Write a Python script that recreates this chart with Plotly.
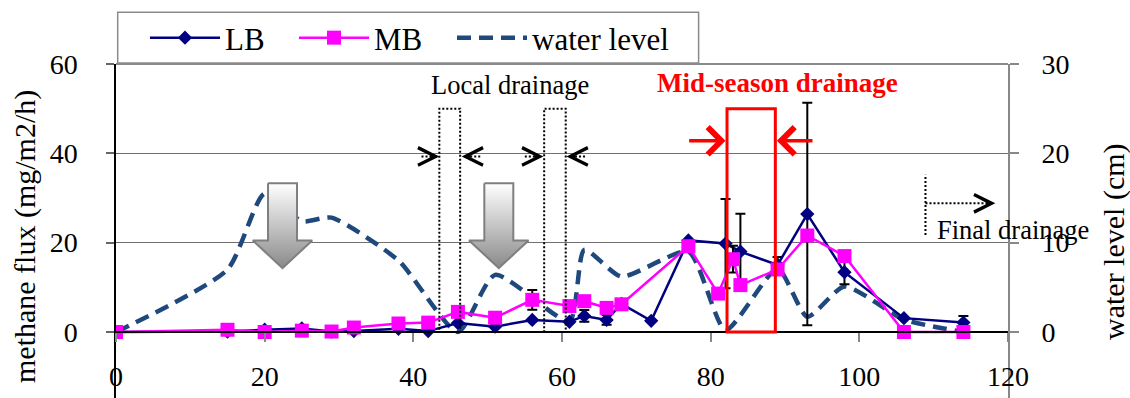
import plotly.graph_objects as go

# ---------------- data ----------------
days_LB = [0, 15, 20, 25, 29, 32, 38, 42, 46, 51, 56, 61, 63, 66, 68, 72, 77, 82, 84, 89, 93, 98, 106, 114]
LB_flux = [0, 0.1, 0.5, 0.8, 0.1, 0.2, 0.7, 0.2, 2.0, 1.2, 2.7, 2.3, 3.6, 2.7, 6.3, 2.5, 20.5, 19.8, 18.0, 15.0, 26.4, 13.4, 3.1, 2.1]
LB_err = [0, 0, 0, 0, 0, 0, 0, 0, 0, 0, 0, 0, 1.3, 1.1, 0, 0, 0, 10.0, 8.5, 1.8, 24.9, 2.7, 0, 1.5]

days_MB = [0, 15, 20, 25, 29, 32, 38, 42, 46, 51, 56, 61, 63, 66, 68, 77, 81, 83, 84, 89, 93, 98, 106, 114]
MB_flux = [0, 0.5, 0.0, 0.3, 0.1, 1.0, 1.9, 2.1, 4.5, 3.2, 7.2, 5.8, 6.9, 5.4, 6.2, 19.2, 8.6, 16.3, 10.5, 14.0, 21.6, 17.0, 0.0, 0.0]
MB_err = [0, 0, 0, 0, 0, 0, 0, 0, 0, 0, 2.2, 0, 0, 0, 0, 0, 0, 3.0, 0, 0, 0, 0, 0, 0]

days_water = [0, 15, 20, 25, 29, 38, 46, 51, 61, 63, 68, 77, 82, 89, 93, 98, 106, 114]
water_level = [0, 7.0, 15.5, 12.4, 12.8, 8.0, 0.0, 6.4, 1.2, 9.2, 6.2, 9.0, 0.2, 7.1, 1.7, 5.1, 1.4, 0.0]

x_ticks = [0, 20, 40, 60, 80, 100, 120]
flux_ticks = [0, 20, 40, 60]
water_ticks = [0, 10, 20, 30]

X_RANGE = [0, 120]
FLUX_RANGE = [-14.776, 60]
WATER_RANGE = [-7.388, 30]

FONT = "Liberation Serif"
NAVY = "#000080"
MAGENTA = "#FF00FF"
WATER_C = "#1F497D"

PLOT_L, PLOT_R, PLOT_T, PLOT_B = 116, 1008, 64, 398


def px_x(px):
    return (px - PLOT_L) / (PLOT_R - PLOT_L)


def px_y(py):
    return (PLOT_B - py) / (PLOT_B - PLOT_T)


fig = go.Figure()

# water level (right axis) - drawn first so it sits beneath
fig.add_trace(go.Scatter(
    x=days_water, y=water_level, name="water level", yaxis="y", legend="legend3",
    mode="lines",
    line=dict(color=WATER_C, width=4.5, dash="14px,8px", shape="spline", smoothing=0.6),
    hoverinfo="skip"))

# gray block arrows (decorations)
def block_arrow(cx, top=33.3, base=20.5, tip=14.3, hs=1.95, hh=4.0):
    xs = [cx - hs, cx + hs, cx + hs, cx + hh, cx, cx - hh, cx - hs, cx - hs]
    ys = [top, top, base, base, tip, base, base, top]
    return xs, ys

for cx in [22.4, 51.5]:
    ax_, ay_ = block_arrow(cx)
    fig.add_trace(go.Scatter(
        x=ax_, y=ay_, yaxis="y2", mode="lines", fill="toself",
        fillgradient=dict(type="vertical", colorscale=[[0, "#8a8a8a"], [1, "#ffffff"]],
                          start=14.3, stop=33.3),
        line=dict(color="#7f7f7f", width=2), showlegend=False, hoverinfo="skip"))

fig.add_trace(go.Scatter(
    x=days_LB, y=LB_flux, name="LB", yaxis="y2", legend="legend", mode="lines+markers",
    line=dict(color=NAVY, width=2.5),
    marker=dict(symbol="diamond", size=11, color=NAVY),
    error_y=dict(type="data", array=LB_err, visible=True, color="black", thickness=2, width=5),
    hoverinfo="skip"))

fig.add_trace(go.Scatter(
    x=days_MB, y=MB_flux, name="MB", yaxis="y2", legend="legend2", mode="lines+markers",
    line=dict(color=MAGENTA, width=2.5),
    marker=dict(symbol="square", size=14, color=MAGENTA),
    error_y=dict(type="data", array=MB_err, visible=True, color="black", thickness=2, width=5),
    hoverinfo="skip"))

shapes = []
annotations = []

# plot-area top border
shapes.append(dict(type="line", xref="paper", yref="paper", x0=0, x1=1, y0=1, y1=1,
                   line=dict(color="#8a8a8a", width=2), layer="above"))
# legend box
shapes.append(dict(type="rect", xref="paper", yref="paper", x0=px_x(117.7), x1=px_x(698.6),
                   y0=px_y(63), y1=px_y(12.3),
                   fillcolor="white", line=dict(color="#8a8a8a", width=1.5), layer="above"))

DOT = "2px,2px"
# local drainage dotted rectangles
for x0, x1 in [(43.5, 46.3), (57.6, 60.5)]:
    shapes.append(dict(type="rect", xref="x", yref="y2", x0=x0, x1=x1, y0=0, y1=50,
                       line=dict(color="black", width=2, dash=DOT), layer="above"))
# mid-season red rectangle
shapes.append(dict(type="rect", xref="x", yref="y2", x0=82.2, x1=88.7, y0=0, y1=50,
                   line=dict(color="red", width=3), layer="above"))

# local drainage chevron arrows (tip, tail)
CHEV_Y = 39.3
for tip, tail in [(43.5, 41.1), (46.5, 49.0), (57.5, 55.0), (60.6, 63.1)]:
    sgn = 1 if tail < tip else -1
    shapes.append(dict(type="line", xref="x", yref="y2", x0=tail, x1=tip - sgn * 1.0,
                       y0=CHEV_Y, y1=CHEV_Y, line=dict(color="black", width=2, dash=DOT), layer="above"))
    annotations.append(dict(x=tip, y=CHEV_Y, xref="x", yref="y2", ax=tip - sgn * 1.35, ay=CHEV_Y,
                            axref="x", ayref="y2", text="", showarrow=True, arrowhead=5,
                            arrowsize=2.3, arrowwidth=1.5, arrowcolor="black"))

# final drainage
shapes.append(dict(type="line", xref="x", yref="y2", x0=108.9, x1=108.9, y0=21.7, y1=35.2,
                   line=dict(color="black", width=2, dash=DOT), layer="above"))
shapes.append(dict(type="line", xref="x", yref="y2", x0=108.9, x1=117.3, y0=28.8, y1=28.8,
                   line=dict(color="black", width=2, dash=DOT), layer="above"))
annotations.append(dict(x=118.3, y=28.8, xref="x", yref="y2", ax=116.95, ay=28.8,
                        axref="x", ayref="y2", text="", showarrow=True, arrowhead=5,
                        arrowsize=2.3, arrowwidth=1.5, arrowcolor="black"))

# mid-season red arrows
for tip, tail in [(82.0, 76.9), (88.9, 93.9)]:
    annotations.append(dict(x=tip, y=42.8, xref="x", yref="y2", ax=tail, ay=42.8,
                            axref="x", ayref="y2", text="", showarrow=True, arrowhead=4,
                            arrowsize=1.5, arrowwidth=3.5, arrowcolor="red"))

# text labels
annotations.append(dict(x=53.0, y=55.3, xref="x", yref="y2", text="Local drainage", showarrow=False,
                        font=dict(family=FONT, size=26.5, color="black")))
annotations.append(dict(x=89.0, y=55.8, xref="x", yref="y2", text="<b>Mid-season drainage</b>",
                        showarrow=False, font=dict(family=FONT, size=27, color="red")))
annotations.append(dict(x=110.2, y=22.8, xref="x", yref="y2", text="Final drainage", showarrow=False,
                        xanchor="left", font=dict(family=FONT, size=26.5, color="black")))

# axis titles
annotations.append(dict(x=px_x(25), y=px_y(237), xref="paper", yref="paper",
                        xanchor="center", yanchor="middle",
                        text="methane flux (mg/m2/h)", textangle=-90, showarrow=False,
                        font=dict(family=FONT, size=30, color="black")))
annotations.append(dict(x=px_x(1114), y=px_y(242), xref="paper", yref="paper",
                        xanchor="center", yanchor="middle",
                        text="water level (cm)", textangle=-90, showarrow=False,
                        font=dict(family=FONT, size=30, color="black")))

x_pos = (0 - WATER_RANGE[0]) / (WATER_RANGE[1] - WATER_RANGE[0])

legend_common = dict(orientation="h", xanchor="left", y=px_y(38), yanchor="middle",
                     bgcolor="rgba(0,0,0,0)", borderwidth=0, font=dict(family=FONT, size=31),
                     itemwidth=70)

fig.update_layout(
    width=1130, height=398,
    margin=dict(l=PLOT_L, r=1130 - PLOT_R, t=PLOT_T, b=0, pad=0),
    paper_bgcolor="white", plot_bgcolor="white",
    font=dict(family=FONT, size=28, color="black"),
    hovermode=False,
    showlegend=True,
    legend=dict(x=px_x(145), **legend_common),
    legend2=dict(x=px_x(294), **legend_common),
    legend3=dict(x=px_x(452), **legend_common),
    xaxis=dict(range=X_RANGE, tickvals=x_ticks, anchor="free", position=x_pos,
               showline=True, linecolor="black", linewidth=1.5,
               ticks="outside", ticklen=9, tickwidth=1.5, tickcolor="#888",
               showgrid=False, zeroline=False, ticklabelstandoff=11, automargin=False),
    yaxis=dict(range=WATER_RANGE, tickvals=water_ticks, side="right", anchor="x",
               showline=True, linecolor="#888", linewidth=2,
               ticks="outside", ticklen=9, tickwidth=1.5, tickcolor="#888",
               showgrid=False, zeroline=False, ticklabelstandoff=17, automargin=False),
    yaxis2=dict(range=FLUX_RANGE, tickvals=flux_ticks, side="left", overlaying="y", anchor="x",
                showline=True, linecolor="black", linewidth=1.5,
                ticks="outside", ticklen=8, tickwidth=1.5, tickcolor="#666",
                showgrid=True, gridcolor="#707070", gridwidth=1, zeroline=False,
                ticklabelstandoff=23, automargin=False),
    shapes=shapes,
    annotations=annotations,
)

fig.write_html("out.html")
